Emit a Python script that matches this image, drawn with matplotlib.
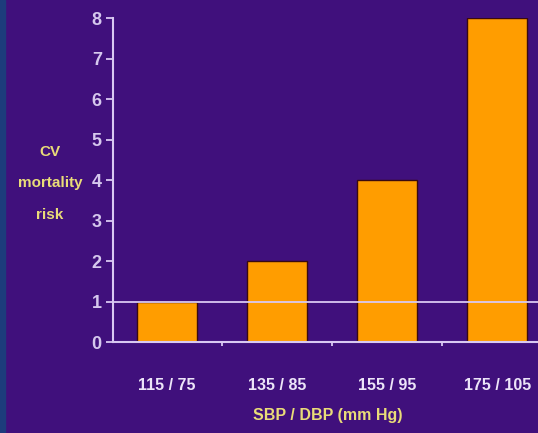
#!/usr/bin/env python3
# coding: utf-8

import numpy as np
import matplotlib
matplotlib.use("Agg")
import matplotlib.pyplot as plt
from matplotlib.patches import Rectangle

# data
categories = ["115 / 75", "135 / 85", "155 / 95", "175 / 105"]
risk = [1, 2, 4, 8]
y_ticks = [0, 1, 2, 3, 4, 5, 6, 7, 8]
reference_level = 1

bg = "#40107c"
bar_color = "#ff9d00"
axis_color = "#d9c9f2"
label_color = "#e9dc78"
font = ["Liberation Sans Narrow", "Liberation Sans", "DejaVu Sans"]

fig = plt.figure(figsize=(5.38, 4.33), dpi=100, facecolor=bg)
# thin blue strip on the left edge of the slide
fig.patches.append(Rectangle((0, 0), 0.009, 1, transform=fig.transFigure,
                             color="#1d3c7c", zorder=0))
ax = fig.add_axes([0.21, 0.21, 0.80, 0.748])
ax.set_facecolor(bg)

x = np.arange(len(categories))
ax.bar(x, risk, width=0.54, color=bar_color, edgecolor="#3a0a10", linewidth=1.0, zorder=2)
ax.axhline(reference_level, color=axis_color, linewidth=1.3, zorder=3)

ax.set_xlim(-0.49, 3.42)
ax.set_ylim(0, 8)

for side in ["top", "right"]:
    ax.spines[side].set_visible(False)
for side in ["left", "bottom"]:
    ax.spines[side].set_color(axis_color)
    ax.spines[side].set_linewidth(1.5)

ax.set_yticks(y_ticks)
ax.set_yticklabels([str(v) for v in y_ticks])
ax.set_xticks(x)
ax.set_xticklabels(categories)
ax.set_xticks(x[:-1] + 0.5, minor=True)
ax.tick_params(axis="y", colors=axis_color, length=5, width=1.3, pad=3, labelsize=13)
ax.tick_params(axis="x", which="major", length=0, pad=26, labelsize=11.5, colors="#ece4f8")
ax.tick_params(axis="x", which="minor", length=3, width=1.3, colors=axis_color)
for lab in ax.get_yticklabels() + ax.get_xticklabels():
    lab.set_family(font)
    lab.set_fontweight("bold")
for lab in ax.get_yticklabels():
    lab.set_color("#d6c8ee")

ax.set_xlabel("SBP / DBP (mm Hg)", color=label_color, fontsize=11.5,
              fontweight="bold", family=font, labelpad=11)

fig.text(0.093, 0.577, "CV\nmortality\nrisk", color=label_color, fontsize=11,
         fontweight="bold", family=font, ha="center", va="center",
         linespacing=2.6)

fig.savefig("out.png", dpi=100, facecolor=bg)
